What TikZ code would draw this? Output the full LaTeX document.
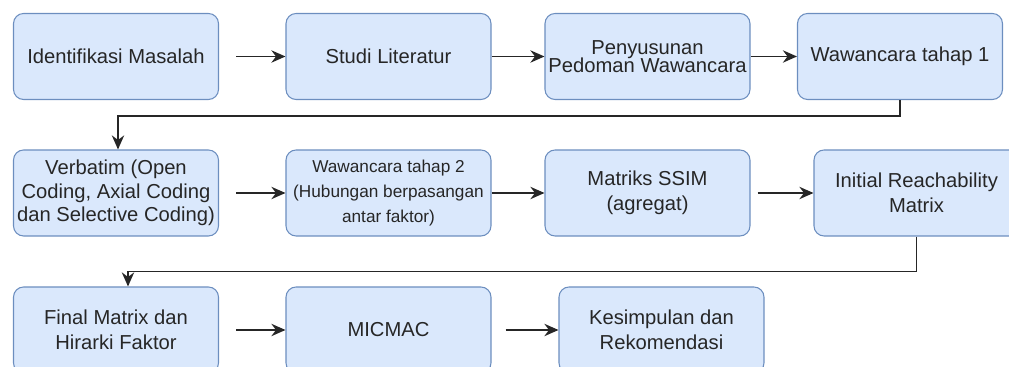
\documentclass[tikz,border=0pt]{standalone}
\usepackage{fontspec}
\setmainfont{Liberation Sans}
\usetikzlibrary{arrows.meta}
\definecolor{boxline}{HTML}{6C8EBF}
\definecolor{boxfill}{HTML}{DAE8FC}

\begin{document}
\begin{tikzpicture}[x=0.02cm, y=-0.02cm,
  box/.style={draw=boxline, fill=boxfill, line width=0.6pt, rounded corners=0.2cm,
    minimum width=4.1cm, minimum height=1.72cm, inner sep=1pt, align=center,
    text=black!85, font=\fontsize{11.5}{14.2}\selectfont},
  flow/.style={-{Stealth[length=8pt,width=7pt]}, line width=1.1pt, black!85}]
\useasboundingbox (0,0) rectangle (1009,367);
\clip (0,0) rectangle (1009,367);

% baris 1
\node[box] (idm) at (116,56.5) {Identifikasi Masalah};
\node[box] (studi) at (388.5,56.5) {Studi Literatur};
\node[box] (pedoman) at (647.5,56.5) {Penyusunan\\[-4pt]Pedoman Wawancara};
\node[box] (wc1) at (900,56.5) {Wawancara tahap 1};
% baris 2
\node[box, font=\fontsize{11.5}{13.3}\selectfont] (verb) at (116,193) {Verbatim (Open\\Coding, Axial Coding\\dan Selective Coding)};
\node[box, font=\fontsize{9.8}{14.2}\selectfont] (wc2) at (388.5,193) {Wawancara tahap 2\\(Hubungan berpasangan\\antar faktor)};
\node[box] (ssim) at (647.5,193) {Matriks SSIM\\(agregat)};
\node[box] (irm) at (916.5,193) {Initial Reachability\\Matrix};
% baris 3
\node[box] (final) at (116,330) {Final Matrix dan\\Hirarki Faktor};
\node[box] (micmac) at (388.5,330) {MICMAC};
\node[box] (simpul) at (661.5,330) {Kesimpulan dan\\Rekomendasi};

\draw[flow] ([xshift=0.34cm]idm.east) -- (studi.west);
\draw[flow] (studi) -- (pedoman);
\draw[flow] (pedoman) -- (wc1);
\draw[flow] (wc1.south) -- ++(0,16) -| ([xshift=0.04cm]verb.north);
\draw[flow] ([xshift=0.34cm]verb.east) -- (wc2.west);
\draw[flow] (wc2) -- (ssim);
\draw[flow] ([xshift=0.14cm]ssim.east) -- (irm.west);
\draw[flow] (irm.south) -- ++(0,35) -| ([xshift=0.24cm]final.north);
\draw[flow] ([xshift=0.34cm]final.east) -- (micmac.west);
\draw[flow] ([xshift=0.28cm]micmac.east) -- (simpul.west);
\end{tikzpicture}
\end{document}
